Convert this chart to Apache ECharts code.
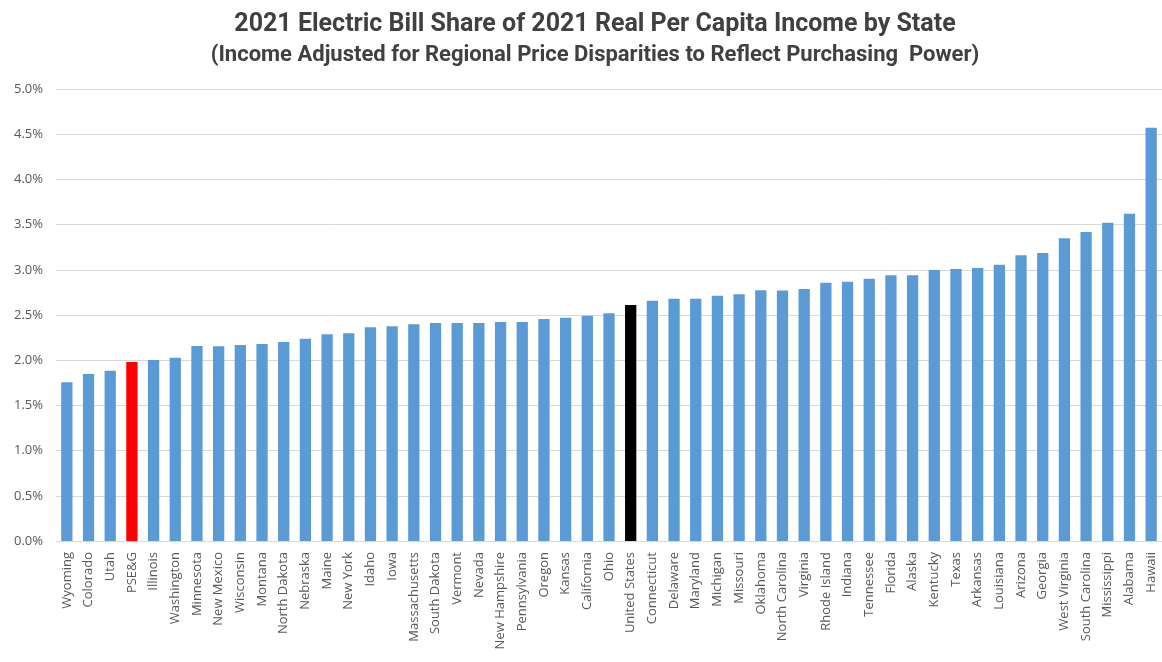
<!DOCTYPE html>
<html>
<head>
<meta charset="utf-8">
<script src="https://cdn.jsdelivr.net/npm/echarts@6/dist/echarts.min.js"></script>
<style>
html,body{margin:0;padding:0;background:#fff;}
#chart{width:1162px;height:662px;}
</style>
</head>
<body>
<div id="chart"></div>
<script>
const titleText = "2021 Electric Bill Share of 2021 Real Per Capita Income by State";
const subtitleText = "(Income Adjusted for Regional Price Disparities to Reflect Purchasing  Power)";
const states = ["Wyoming","Colorado","Utah","PSE&G","Illinois","Washington","Minnesota","New Mexico","Wisconsin","Montana","North Dakota","Nebraska","Maine","New York","Idaho","Iowa","Massachusetts","South Dakota","Vermont","Nevada","New Hampshire","Pennsylvania","Oregon","Kansas","California","Ohio","United States","Connecticut","Delaware","Maryland","Michigan","Missouri","Oklahoma","North Carolina","Virginia","Rhode Island","Indiana","Tennessee","Florida","Alaska","Kentucky","Texas","Arkansas","Louisiana","Arizona","Georgia","West Virginia","South Carolina","Mississippi","Alabama","Hawaii"];
const shares = [1.755,1.847,1.884,1.98,2.002,2.028,2.157,2.153,2.168,2.179,2.201,2.238,2.286,2.297,2.364,2.375,2.397,2.411,2.411,2.411,2.423,2.423,2.456,2.47,2.493,2.518,2.61,2.658,2.68,2.68,2.714,2.729,2.773,2.771,2.788,2.858,2.869,2.902,2.939,2.939,2.998,3.009,3.02,3.057,3.16,3.186,3.348,3.418,3.521,3.621,4.572];
const yTicks = [0,0.5,1,1.5,2,2.5,3,3.5,4,4.5,5];
const redCategories = ["PSE&G"];
const blackCategories = ["United States"];

const BLUE = "#5B9BD5";
const data = states.map((s,i)=>({
  value: shares[i],
  itemStyle: {color: redCategories.includes(s) ? "#FF0000" : (blackCategories.includes(s) ? "#000000" : BLUE)}
}));

const chart = echarts.init(document.getElementById('chart'), null, {renderer:'canvas'});
chart.setOption({
  backgroundColor: '#ffffff',
  animation: false,
  title: [
    {text: titleText, left: 590, top: 7, textAlign: 'center',
     textStyle: {fontFamily: 'Roboto, sans-serif', fontWeight: 'bold', fontSize: 25, color: '#404040'}},
    {text: subtitleText, left: 590, top: 39, textAlign: 'center',
     textStyle: {fontFamily: 'Roboto, sans-serif', fontWeight: 'bold', fontSize: 22, color: '#404040'}}
  ],
  grid: {left: 56, right: 0, top: 89, bottom: 121, containLabel: false},
  xAxis: {
    type: 'category',
    data: states,
    axisLine: {show: true, lineStyle: {color: '#D9D9D9', width: 1}},
    axisTick: {show: false},
    axisLabel: {interval: 0, rotate: 90, fontSize: 13, color: '#595959', fontFamily: 'Open Sans, sans-serif', margin: 11}
  },
  yAxis: {
    type: 'value',
    min: 0, max: 5, interval: 0.5,
    axisLine: {show: false},
    axisTick: {show: false},
    splitLine: {lineStyle: {color: '#D9D9D9', width: 1}},
    axisLabel: {
      fontSize: 13, color: '#595959', fontFamily: 'Open Sans, sans-serif', margin: 13,
      formatter: v => { const t = yTicks.find(x => Math.abs(x - v) < 1e-9); return (t !== undefined ? t : v).toFixed(1) + '%'; }
    }
  },
  series: [{
    type: 'bar',
    data: data,
    barWidth: '52%'
  }]
});
</script>
</body>
</html>
